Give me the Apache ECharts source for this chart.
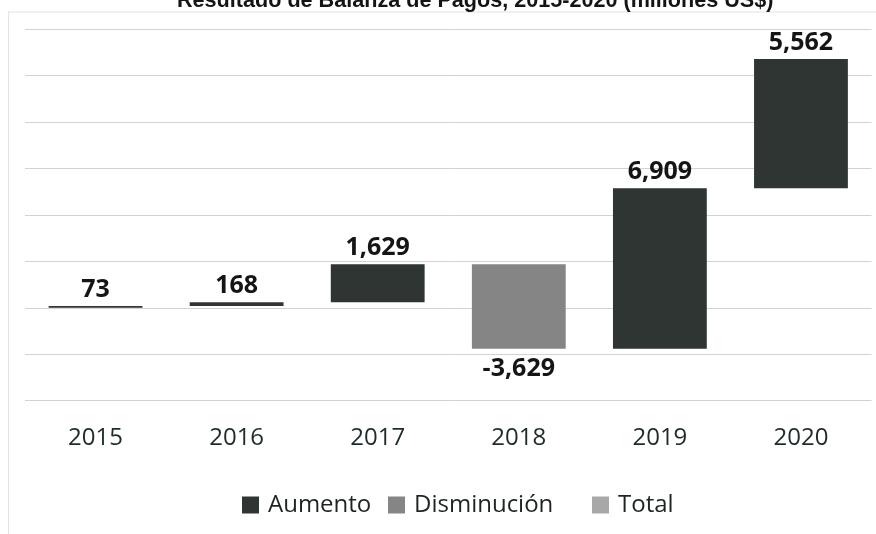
<!DOCTYPE html>
<html>
<head>
<meta charset="utf-8">
<script src="https://cdn.jsdelivr.net/npm/echarts@6/dist/echarts.min.js"></script>
<style>
html,body{margin:0;padding:0;background:#fff;}
#chart{width:876px;height:534px;}
</style>
</head>
<body>
<div id="chart"></div>
<script>
// ---- data ----
const titleText = 'Resultado de Balanza de Pagos, 2015-2020 (millones US$)';
const years = ['2015', '2016', '2017', '2018', '2019', '2020'];
const values = [73, 168, 1629, -3629, 6909, 5562];
const legendNames = ['Aumento', 'Disminución', 'Total'];
const yMin = -4000, yMax = 12000, yStep = 2000;

// ---- waterfall pieces derived from values ----
const baseData = [], upData = [], downData = [];
let running = 0;
values.forEach(function (v) {
  if (v >= 0) {
    baseData.push(running); upData.push(v); downData.push(0);
  } else {
    baseData.push(running + v); upData.push(0); downData.push(-v);
  }
  running += v;
});

function fmt(n) { return Number(n).toLocaleString('en-US'); }
function labelFmt(p) { return p.value ? fmt(values[p.dataIndex]) : ''; }

const chart = echarts.init(document.getElementById('chart'), null, { renderer: 'canvas' });
const labelFont = { fontFamily: 'Open Sans', fontSize: 25, fontWeight: 'bold', color: '#151515' };
const legendBase = {
  itemWidth: 17, itemHeight: 17, icon: 'rect', top: 488,
  textStyle: { fontFamily: 'Open Sans', fontSize: 24, color: '#1e2424', padding: [0, 0, 0, 4] }
};

chart.setOption({
  animation: false,
  backgroundColor: '#ffffff',
  title: {
    text: titleText,
    left: 177, top: -10, padding: 0,
    textStyle: { fontFamily: 'Liberation Sans', fontWeight: 'bold', fontSize: 21.6, color: '#141414' }
  },
  graphic: [
    { type: 'line', shape: { x1: 8, y1: 12, x2: 876, y2: 12 }, style: { stroke: '#e2e2e2', lineWidth: 1 }, silent: true },
    { type: 'line', shape: { x1: 8.5, y1: 12, x2: 8.5, y2: 534 }, style: { stroke: '#e2e2e2', lineWidth: 1 }, silent: true }
  ],
  legend: [
    Object.assign({ data: [legendNames[0]], left: 237 }, legendBase),
    Object.assign({ data: [legendNames[1]], left: 383 }, legendBase),
    Object.assign({ data: [legendNames[2]], left: 587 }, legendBase)
  ],
  grid: { left: 25, right: 4.5, top: 29, bottom: 133.3, containLabel: false },
  xAxis: {
    type: 'category',
    data: years,
    axisLine: { show: false, onZero: false },
    axisTick: { show: false },
    axisLabel: { fontFamily: 'Open Sans', fontSize: 24, color: '#1f2b2b', margin: 25 }
  },
  yAxis: {
    type: 'value',
    min: yMin, max: yMax, interval: yStep,
    axisLabel: { show: false },
    axisLine: { show: false },
    axisTick: { show: false },
    splitLine: { lineStyle: { color: '#d2d2d2', width: 1 } }
  },
  series: [
    {
      name: 'base', type: 'bar', stack: 'w', stackStrategy: 'all',
      data: baseData, barWidth: '66.5%',
      itemStyle: { color: 'transparent' },
      silent: true, emphasis: { disabled: true }
    },
    {
      name: 'Aumento', type: 'bar', stack: 'w', stackStrategy: 'all',
      data: upData, barWidth: '66.5%',
      itemStyle: { color: '#2e3532' },
      label: Object.assign({ show: true, position: 'top', distance: 4, formatter: labelFmt }, labelFont)
    },
    {
      name: 'Disminución', type: 'bar', stack: 'w', stackStrategy: 'all',
      data: downData, barWidth: '66.5%',
      itemStyle: { color: '#858585' },
      label: Object.assign({ show: true, position: 'bottom', distance: 8, formatter: labelFmt }, labelFont)
    },
    {
      name: 'Total', type: 'bar', stack: 'w', stackStrategy: 'all',
      data: [], barWidth: '66.5%',
      itemStyle: { color: '#a8a8a8' }
    }
  ]
});
</script>
</body>
</html>
